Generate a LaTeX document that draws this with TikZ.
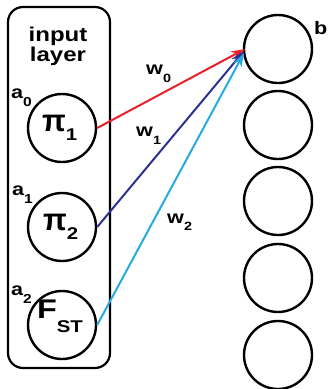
\documentclass[tikz,border=0pt]{standalone}
\usepackage{fontspec}
\setmainfont{Liberation Sans}[FakeStretch=1.2]
\newfontfamily\pifont{Liberation Sans}
\usetikzlibrary{arrows.meta}
\definecolor{cred}{HTML}{E8202A}
\definecolor{cdblue}{HTML}{2E3192}
\definecolor{clblue}{HTML}{27AAE1}
\tikzset{
  neuron/.style={draw=black, line width=2.4pt, circle, minimum size=68pt, inner sep=0pt},
  ntext/.style={font=\bfseries\fontsize{27}{29}\selectfont, inner sep=0pt, anchor=base west},
  lbl/.style={font=\bfseries\fontsize{18}{20}\selectfont, inner sep=0pt, anchor=base west},
  wlbl/.style={font=\bfseries\fontsize{18}{20}\selectfont, inner sep=0pt, anchor=base west},
  ttl/.style={font=\bfseries\fontsize{20}{22}\selectfont, inner sep=0pt, anchor=base},
  wire/.style={line width=2pt, -{Stealth[length=14pt,width=9pt]}},
}
\newcommand{\sbs}[3]{\raisebox{-#2pt}{\fontsize{#1}{#1}\selectfont #3}}
\newcommand{\bpi}{{\pifont\bfseries\fontsize{31}{33}\selectfont π}}
\begin{document}
\begin{tikzpicture}[x=1pt,y=-1pt]
\useasboundingbox (0,0) rectangle (330,389);
\draw[line width=2.2pt, rounded corners=15pt] (8,7) rectangle (110,368);
\node[ttl] (title1) at (58,41) {input};
\node[ttl] (title2) at (58,61) {layer};
\node[neuron] (p1) at (62,128) {};
\node[neuron] (p2) at (62,227) {};
\node[neuron] (p3) at (62,325) {};
\node[ntext] (p1t) at (42,131) {\bpi\sbs{17}{9}{1}};
\node[ntext] (p2t) at (43,230) {\bpi\sbs{17}{9}{2}};
\node[ntext, anchor=base] (p3t) at (60,318) {F\sbs{17}{14}{ST}};
\node[lbl] (a0) at (11,98) {a\sbs{13}{8}{0}};
\node[lbl] (a1) at (12,195) {a\sbs{13}{8}{1}};
\node[lbl] (a2) at (11,295) {a\sbs{13}{8}{2}};
\node[neuron] (r1) at (278,49) {};
\node[neuron] (r2) at (278,125) {};
\node[neuron] (r3) at (278,201) {};
\node[neuron] (r4) at (278,278) {};
\node[neuron] (r5) at (278,355) {};
\node[wlbl] (b) at (314,34) {b};
\node[wlbl] (w0) at (146,74) {w\sbs{12}{8}{0}};
\node[wlbl] (w1) at (136,136) {w\sbs{12}{8}{1}};
\node[wlbl] (w2) at (167,223) {w\sbs{12}{7}{2}};
\coordinate (t1) at (245,49);
\coordinate (t2) at (244,51);
\coordinate (t3) at (244,53);
\draw[wire, cred] (p1.east) -- (t1);
\draw[wire, cdblue] (p2.east) -- (t2);
\draw[wire, clblue] (p3.east) -- (t3);
\end{tikzpicture}
\end{document}
